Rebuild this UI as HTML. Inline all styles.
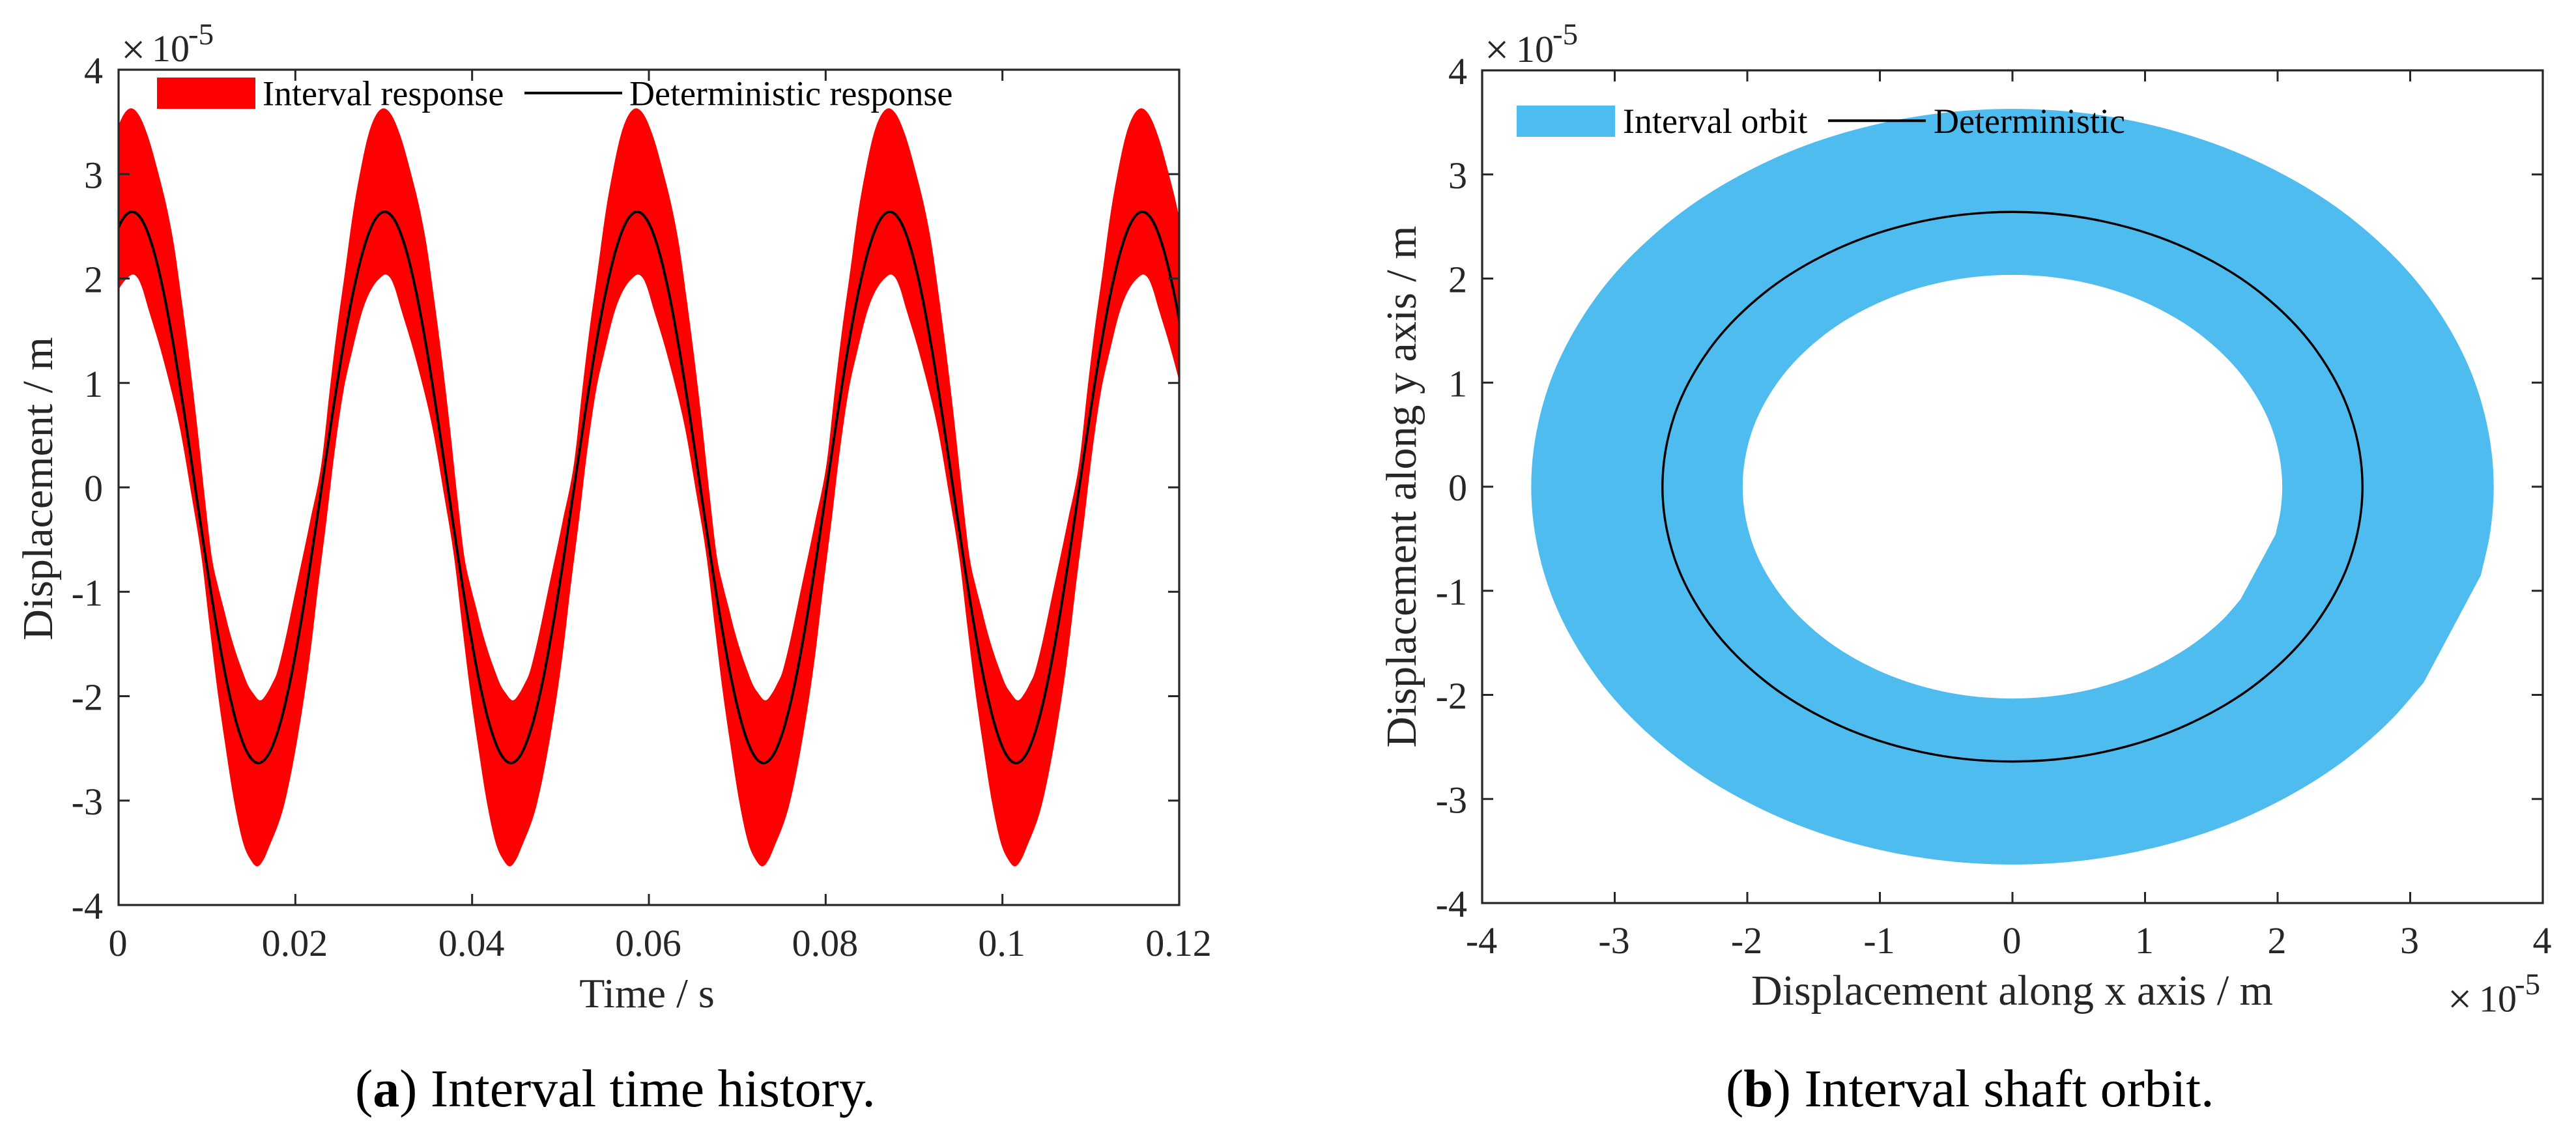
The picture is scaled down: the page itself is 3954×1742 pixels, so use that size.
<!DOCTYPE html>
<html lang="en">
<head>
<meta charset="utf-8">
<title>Interval time history and interval shaft orbit</title>
<style>
html,body{margin:0;padding:0;background:#fff;width:3954px;height:1742px;overflow:hidden}
svg{display:block}
text{font-family:"Liberation Serif",serif}
.tick{font-size:58px;fill:#262626}
.axt{font-size:66px;fill:#262626}
.leg{font-size:54px;fill:#000}
.cap{font-size:81.8px;fill:#000}
.mul{font-size:58px;fill:#262626}
.cross{font-size:66px;fill:#262626}
.exp{font-size:47px;fill:#262626}
</style>
</head>
<body>
<svg id="figure" xmlns="http://www.w3.org/2000/svg" width="3954" height="1742" viewBox="0 0 3954 1742">
  <defs>
    <clipPath id="clip-a"><rect x="182" y="107" width="1628" height="1282"/></clipPath>
  </defs>
  <rect x="0" y="0" width="3954" height="1742" fill="#fff"/>

  <g id="chart-a">
    <path id="band-a" fill="#ff0000" clip-path="url(#clip-a)"/>
    <path id="line-a" fill="none" stroke="#000" stroke-width="4" clip-path="url(#clip-a)"/>
    <g id="ticks-a"></g>
    <rect x="182" y="107" width="1628" height="1282" fill="none" stroke="#262626" stroke-width="3.2"/>
    <text><tspan class="cross" x="186" y="98">×</tspan><tspan class="mul" x="233" y="94">10</tspan><tspan class="exp" x="289" y="68">-5</tspan></text>
    <text class="axt" style="font-size:64px" x="993" y="1546" text-anchor="middle">Time / s</text>
    <text class="axt" text-anchor="middle" transform="translate(80 750) rotate(-90)">Displacement / m</text>
    <g>
      <rect x="241" y="119" width="151" height="48" fill="#ff0000"/>
      <text class="leg" x="403" y="161.5">Interval response</text>
      <line x1="805" y1="142.7" x2="955" y2="142.7" stroke="#000" stroke-width="4"/>
      <text class="leg" x="966" y="161.5">Deterministic response</text>
    </g>
    <text class="cap" x="545" y="1698">(<tspan font-weight="bold">a</tspan>) Interval time history.</text>
  </g>

  <g id="chart-b">
    <path id="band-b" fill="#4ebcee" fill-rule="evenodd"/>
    <path id="line-b" fill="none" stroke="#000" stroke-width="3.4"/>
    <g id="ticks-b"></g>
    <rect x="2275" y="108" width="1628" height="1278" fill="none" stroke="#262626" stroke-width="3.2"/>
    <text><tspan class="cross" x="2279" y="98">×</tspan><tspan class="mul" x="2327" y="95">10</tspan><tspan class="exp" x="2383" y="68">-5</tspan></text>
    <text><tspan class="cross" x="3757" y="1555">×</tspan><tspan class="mul" x="3805" y="1552.5">10</tspan><tspan class="exp" x="3860" y="1526">-5</tspan></text>
    <text class="axt" x="3088.5" y="1542" text-anchor="middle">Displacement along x axis / m</text>
    <text class="axt" text-anchor="middle" transform="translate(2173 747) rotate(-90)">Displacement along y axis / m</text>
    <g>
      <rect x="2328" y="162" width="151" height="48" fill="#4ebcee"/>
      <text class="leg" x="2491" y="204">Interval orbit</text>
      <line x1="2806" y1="185.3" x2="2956" y2="185.3" stroke="#000" stroke-width="4"/>
      <text class="leg" x="2968" y="204">Deterministic</text>
    </g>
    <text class="cap" x="2649" y="1698">(<tspan font-weight="bold">b</tspan>) Interval shaft orbit.</text>
  </g>
</svg>

<script>
/* ---- Chart (a): axis ticks ---- */
const timeTicks = [0, 0.02, 0.04, 0.06, 0.08, 0.1, 0.12];
const timeTickLabels = ['0', '0.02', '0.04', '0.06', '0.08', '0.1', '0.12'];
const dispTicks = [-4, -3, -2, -1, 0, 1, 2, 3, 4];
const dispTickLabels = ['-4', '-3', '-2', '-1', '0', '1', '2', '3', '4'];

/* Crest times (ms) of the deterministic response */
const crestTimes = [1.53, 30.11, 58.68, 87.26, 115.83];

/* One measured cycle of each curve: time offset from the crest (ms), value (x 1e-5 m) */
const upperOffsets = [-14.06, -13.30, -12.77, -12.20, -11.78, -9.99, -8.44, -7.04, -6.23, -5.34, -4.59, -3.49, -2.82, -1.84, -0.88, -0.12, 0.74, 1.72, 3.00, 3.98, 4.72, 5.60, 6.56, 7.41, 8.20, 9.08, 9.73, 10.36, 10.98, 11.71, 12.57, 13.06, 13.67, 14.52];
const upperValues = [-2.04, -1.968, -1.885, -1.78, -1.65, -0.949, -0.324, 0.30, 0.924, 1.548, 2.005, 2.68, 3.0, 3.38, 3.58, 3.63, 3.57, 3.38, 3.0, 2.66, 2.33, 1.80, 1.17, 0.55, -0.08, -0.70, -0.95, -1.156, -1.365, -1.573, -1.78, -1.885, -1.968, -2.04];
const lowerOffsets = [-14.41, -13.67, -13.06, -11.34, -9.86, -8.40, -7.53, -6.60, -5.73, -4.66, -3.69, -2.45, -1.96, -1.35, -0.59, 0.24, 0.81, 1.10, 1.84, 3.19, 3.98, 5.45, 6.72, 7.90, 8.76, 9.66, 10.53, 11.59, 12.69, 13.36, 14.17];
const lowerValues = [-3.63, -3.56, -3.44, -3.03, -2.40, -1.573, -0.949, -0.324, 0.30, 0.924, 1.30, 1.71, 1.82, 1.92, 2.00, 2.036, 1.98, 1.92, 1.71, 1.33, 1.08, 0.549, -0.075, -0.70, -1.323, -1.947, -2.46, -3.03, -3.44, -3.56, -3.63];
const detOffsets = [-14.29, -13.10, -11.91, -10.72, -9.53, -8.33, -7.14, -5.95, -4.76, -3.57, -2.38, -1.19, 0, 1.19, 2.38, 3.57, 4.76, 5.95, 7.14, 8.33, 9.53, 10.72, 11.91, 13.10, 14.29];
const detValues = [-2.64, -2.55, -2.286, -1.867, -1.32, -0.683, 0, 0.683, 1.32, 1.867, 2.286, 2.55, 2.64, 2.55, 2.286, 1.867, 1.32, 0.683, 0, -0.683, -1.32, -1.867, -2.286, -2.55, -2.64];

/* ---- Chart (b): axis ticks and orbit outlines (x 1e-5 m) ---- */
const orbitTicks = [-4, -3, -2, -1, 0, 1, 2, 3, 4];
const orbitTickLabels = ['-4', '-3', '-2', '-1', '0', '1', '2', '3', '4'];
const outerX = [3.533, 3.603, 3.63, 3.506, 3.144, 2.567, 1.815, 0.939, 0, -0.939, -1.815, -2.567, -3.144, -3.506, -3.63, -3.506, -3.144, -2.567, -1.815, -0.939, 0, 0.939, 1.815, 2.567, 2.86, 3.10];
const outerY = [-0.851, -0.442, 0, 0.939, 1.815, 2.567, 3.144, 3.506, 3.63, 3.506, 3.144, 2.567, 1.815, 0.939, 0, -0.939, -1.815, -2.567, -3.144, -3.506, -3.63, -3.506, -3.144, -2.567, -2.235, -1.885];
const innerX = [1.985, 2.022, 2.035, 1.966, 1.762, 1.439, 1.018, 0.527, 0, -0.527, -1.018, -1.439, -1.762, -1.966, -2.035, -1.966, -1.762, -1.439, -1.018, -0.527, 0, 0.527, 1.018, 1.439, 1.593, 1.72];
const innerY = [-0.457, -0.23, 0, 0.527, 1.018, 1.439, 1.762, 1.966, 2.035, 1.966, 1.762, 1.439, 1.018, 0.527, 0, -0.527, -1.018, -1.439, -1.762, -1.966, -2.035, -1.966, -1.762, -1.439, -1.268, -1.083];
const orbitX = [2.64, 2.55, 2.286, 1.867, 1.32, 0.683, 0, -0.683, -1.32, -1.867, -2.286, -2.55, -2.64, -2.55, -2.286, -1.867, -1.32, -0.683, 0, 0.683, 1.32, 1.867, 2.286, 2.55, 2.64];
const orbitY = [0, 0.683, 1.32, 1.867, 2.286, 2.55, 2.64, 2.55, 2.286, 1.867, 1.32, 0.683, 0, -0.683, -1.32, -1.867, -2.286, -2.55, -2.64, -2.55, -2.286, -1.867, -1.32, -0.683, 0];

/* ---- Axis functions ---- */
const xA = function (t) { return 182 + (t / 0.12) * 1628; };
const yA = function (v) { return 748 - v * 160.25; };
const xB = function (v) { return 3089 + v * 203.5; };
const yB = function (v) { return 747 - v * 159.75; };

const SVG_NS = 'http://www.w3.org/2000/svg';

function tickLine(parent, x1, y1, x2, y2) {
  const el = document.createElementNS(SVG_NS, 'line');
  
  
  el.setAttribute('x1', x1);
  el.setAttribute('y1', y1);
  el.setAttribute('x2', x2);
  el.setAttribute('y2', y2);
  el.setAttribute('stroke', '#262626');
  el.setAttribute('stroke-width', '3');
  parent.appendChild(el);
}

function tickText(parent, x, y, anchor, label) {
  const el = document.createElementNS(SVG_NS, 'text');
  
  
  el.setAttribute('class', 'tick');
  el.setAttribute('x', x);
  el.setAttribute('y', y);
  el.setAttribute('text-anchor', anchor);
  el.textContent = label;
  parent.appendChild(el);
}

/* Smooth function-of-x segments: Hermite cubics with three-point slopes */
function functionSegments(pts) {
  const n = pts.length;
  function slope(i) {
    const p = pts[i];
    const a = pts[i - 1];
    const b = pts[i + 1];
    if (!a) return (b[1] - p[1]) / (b[0] - p[0]);
    if (!b) return (p[1] - a[1]) / (p[0] - a[0]);
    const h0 = p[0] - a[0];
    const h1 = b[0] - p[0];
    return ((p[1] - a[1]) / h0 * h1 + (b[1] - p[1]) / h1 * h0) / (h0 + h1);
  }
  let d = '';
  for (let i = 0; i < n - 1; i++) {
    const p = pts[i];
    const q = pts[i + 1];
    const h = (q[0] - p[0]) / 3;
    d += 'C' + (p[0] + h).toFixed(2) + ' ' + (p[1] + slope(i) * h).toFixed(2) + ' ' +
         (q[0] - h).toFixed(2) + ' ' + (q[1] - slope(i + 1) * h).toFixed(2) + ' ' +
         q[0].toFixed(2) + ' ' + q[1].toFixed(2);
  }
  return d;
}

/* Smooth closed or open outline segments; tangents weighted by neighbouring spacing */
function outlineSegments(pts) {
  const n = pts.length;
  const closed = Math.abs(pts[0][0] - pts[n - 1][0]) < 0.01 && Math.abs(pts[0][1] - pts[n - 1][1]) < 0.01;
  function tangent(i) {
    let a = pts[i - 1];
    let b = pts[i + 1];
    if (closed && i === 0) a = pts[n - 2];
    if (closed && i === n - 1) b = pts[1];
    const p = pts[i];
    if (!a) {
      const l = Math.hypot(b[0] - p[0], b[1] - p[1]) || 1;
      return [(b[0] - p[0]) / l, (b[1] - p[1]) / l];
    }
    if (!b) {
      const l = Math.hypot(p[0] - a[0], p[1] - a[1]) || 1;
      return [(p[0] - a[0]) / l, (p[1] - a[1]) / l];
    }
    const la = Math.hypot(p[0] - a[0], p[1] - a[1]) || 1;
    const lb = Math.hypot(b[0] - p[0], b[1] - p[1]) || 1;
    const dx = (p[0] - a[0]) / la * lb + (b[0] - p[0]) / lb * la;
    const dy = (p[1] - a[1]) / la * lb + (b[1] - p[1]) / lb * la;
    const len = Math.hypot(dx, dy) || 1;
    return [dx / len, dy / len];
  }
  let d = '';
  for (let i = 0; i < n - 1; i++) {
    const p = pts[i];
    const q = pts[i + 1];
    const seg = Math.hypot(q[0] - p[0], q[1] - p[1]) / 3;
    const t0 = tangent(i);
    const t1 = tangent(i + 1);
    d += 'C' + (p[0] + t0[0] * seg).toFixed(2) + ' ' + (p[1] + t0[1] * seg).toFixed(2) + ' ' +
         (q[0] - t1[0] * seg).toFixed(2) + ' ' + (q[1] - t1[1] * seg).toFixed(2) + ' ' +
         q[0].toFixed(2) + ' ' + q[1].toFixed(2);
  }
  return d;
}

function moveTo(p) { return 'M' + p[0].toFixed(2) + ' ' + p[1].toFixed(2); }
function lineTo(p) { return 'L' + p[0].toFixed(2) + ' ' + p[1].toFixed(2); }

function cyclePoints(offsets, values) {
  const pts = [];
  crestTimes.forEach(function (crest) {
    offsets.forEach(function (off, i) {
      const p = [xA((crest + off) / 1000), yA(values[i])];
      const last = pts[pts.length - 1];
      if (!last || p[0] - last[0] > 1.5) pts.push(p);
    });
  });
  return pts;
}

/* ---- Chart (a) marks ---- */
const upperPts = cyclePoints(upperOffsets, upperValues);
const lowerPts = cyclePoints(lowerOffsets, lowerValues).reverse();
document.getElementById('band-a').setAttribute('d',
  moveTo(upperPts[0]) + functionSegments(upperPts) + lineTo(lowerPts[0]) + functionSegments(lowerPts) + 'Z');
const detPts = cyclePoints(detOffsets, detValues);
document.getElementById('line-a').setAttribute('d', moveTo(detPts[0]) + functionSegments(detPts));

const ticksA = document.getElementById('ticks-a');
timeTicks.forEach(function (t, i) {
  const x = xA(t);
  tickLine(ticksA, x, 1389, x, 1372);
  tickLine(ticksA, x, 107, x, 124);
  tickText(ticksA, x - 1, 1467, 'middle', timeTickLabels[i]);
});
dispTicks.forEach(function (v, i) {
  const y = yA(v);
  tickLine(ticksA, 182, y, 199, y);
  tickLine(ticksA, 1810, y, 1793, y);
  tickText(ticksA, 158, y + 21, 'end', dispTickLabels[i]);
});

/* ---- Chart (b) marks ---- */
function orbitPoints(xs, ys) {
  return xs.map(function (x, i) { return [xB(x), yB(ys[i])]; });
}
const outerPts = orbitPoints(outerX, outerY);
const innerPts = orbitPoints(innerX, innerY);
document.getElementById('band-b').setAttribute('d',
  moveTo(outerPts[0]) + outlineSegments(outerPts) + 'Z' +
  moveTo(innerPts[0]) + outlineSegments(innerPts) + 'Z');
const orbitPts = orbitPoints(orbitX, orbitY);
document.getElementById('line-b').setAttribute('d', moveTo(orbitPts[0]) + outlineSegments(orbitPts) + 'Z');

const ticksB = document.getElementById('ticks-b');
orbitTicks.forEach(function (v, i) {
  const x = xB(v);
  const y = yB(v);
  tickLine(ticksB, x, 1386, x, 1369);
  tickLine(ticksB, x, 108, x, 125);
  tickText(ticksB, x - 1, 1463, 'middle', orbitTickLabels[i]);
  tickLine(ticksB, 2275, y, 2292, y);
  tickLine(ticksB, 3903, y, 3886, y);
  tickText(ticksB, 2252, y + 21, 'end', orbitTickLabels[i]);
});
</script>
</body>
</html>
